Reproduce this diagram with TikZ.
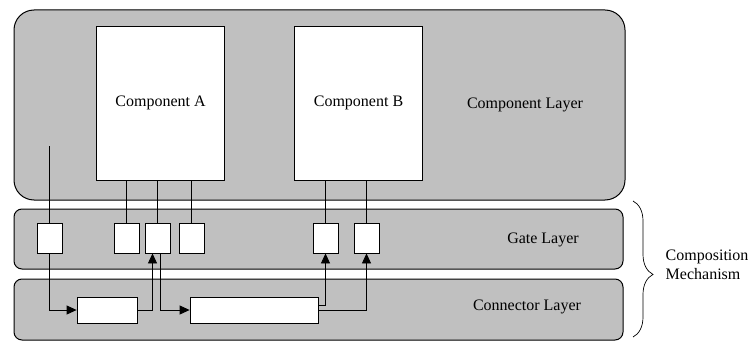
\documentclass[tikz,border=0pt]{standalone}
\usepackage{xcolor}
\usepackage{fontspec}
\setmainfont{Liberation Serif}
\usetikzlibrary{arrows.meta,decorations.pathreplacing}

\definecolor{layergray}{HTML}{C0C0C0}

\begin{document}
\begin{tikzpicture}[x=1pt,y=-1pt,line width=0.8pt,
    layer/.style={draw=black,fill=layergray,line width=1pt},
    comp/.style={draw=black,fill=white,minimum width=128pt,minimum height=154pt,inner sep=0pt},
    gate/.style={draw=black,fill=white,minimum width=25pt,minimum height=30pt,inner sep=0pt},
    conn/.style={draw=black,fill=white,minimum height=26pt,inner sep=0pt},
    lbl/.style={font=\fontsize{16}{19}\selectfont},
    tip/.style={-{Triangle[length=10pt,width=9pt]}}]
          \useasboundingbox (0,0) rectangle (754,342);

          % the three layers
          \draw[layer,rounded corners=20pt] (14,10) rectangle (625,200);
          \draw[layer,rounded corners=8pt] (14,209) rectangle (623,269);
          \draw[layer,rounded corners=8pt] (14,279) rectangle (623,340);

          \node[lbl] (complayer) at (525,105) {Component Layer};
          \node[lbl] (gatelayer) at (543,240) {Gate Layer};
          \node[lbl] (connlayer) at (527,307) {Connector Layer};

          % components
          \node[comp,lbl] (compA) at (160.5,103) {Component A};
          \node[comp,lbl] (compB) at (358.5,103) {Component B};

          % gates
          \node[gate] (g1) at (49.5,238) {};
          \node[gate] (g2) at (126.5,238) {};
          \node[gate] (g3) at (157.5,238) {};
          \node[gate] (g4) at (191.5,238) {};
          \node[gate] (g5) at (325.5,238) {};
          \node[gate] (g6) at (366.5,238) {};

          % connectors
          \node[conn,minimum width=60pt] (c1) at (107,310) {};
          \node[conn,minimum width=128pt] (c2) at (254,310) {};

          \coordinate (in) at (49.5,146);
          \draw (in) -- (g1.north);
          \draw (g2.north) -- (g2.north |- compA.south);
          \draw (g3.north) -- (g3.north |- compA.south);
          \draw (g4.north) -- (g4.north |- compA.south);
          \draw (g5.north) -- (g5.north |- compB.south);
          \draw (g6.north) -- (g6.north |- compB.south);

          \draw[tip] (g1.south) |- (c1.west);
          \draw[tip] (c1.east) -| ([xshift=-5pt]g3.south);
          \draw[tip] ([xshift=3pt]g3.south) |- (c2.west);
          \draw[tip] ([yshift=5pt]c2.east) -| (g5.south);
          \draw[tip] (c2.east) -| (g6.south);

          % brace for the lower two layers
          \draw[line width=0.7pt,decorate,decoration={brace,amplitude=20pt,aspect=0.54}] (633,201) -- (633,337);
          \node[lbl,anchor=west,align=left] (mech) at (662,265) {Composition\\Mechanism};

          \end{tikzpicture}
\end{document}
